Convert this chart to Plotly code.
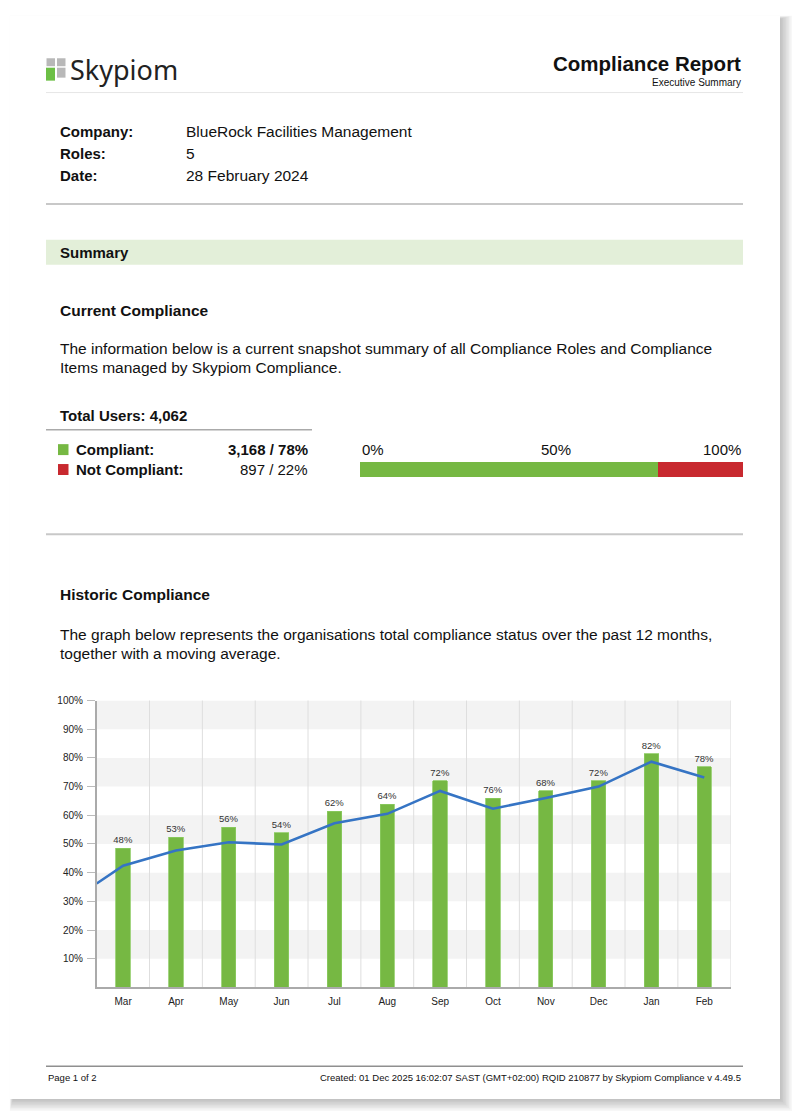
import plotly.graph_objects as go

# ---------------- data ----------------
months = ["Mar", "Apr", "May", "Jun", "Jul", "Aug", "Sep", "Oct", "Nov", "Dec", "Jan", "Feb"]
bar_values = [48.5, 52.4, 55.8, 53.9, 61.4, 63.9, 72.1, 65.9, 68.5, 72.1, 81.5, 76.9]
bar_labels = ["48%", "53%", "56%", "54%", "62%", "64%", "72%", "76%", "68%", "72%", "82%", "78%"]
# moving average: first value is the prior month's average (drawn at the left edge)
ma_values = [36.2, 42.4, 47.7, 50.6, 49.8, 57.2, 60.5, 68.5, 62.3, 66.0, 70.0, 78.7, 73.2]
y_ticks = [10, 20, 30, 40, 50, 60, 70, 80, 90, 100]
y_tick_text = [f"{v}%" for v in y_ticks]

status_names = ["Compliant", "Not Compliant"]
status_counts = [3168, 897]
status_pct_text = ["3,168 / 78%", "897 / 22%"]
total_users = "4,062"

info_labels = ["Company:", "Roles:", "Date:"]
info_values = ["BlueRock Facilities Management", "5", "28 February 2024"]

# ---------------- helpers ----------------
OFF = 8                      # the page body has an 8px margin
W, H = 800 - 2 * OFF, 1119 - 2 * OFF
FONT = "Liberation Sans, Arial, Helvetica, sans-serif"
GREEN = "#76b843"
RED = "#c8292f"
BLUE = "#3574c4"


def px(x):
    return (x - OFF) / W


def py(y):
    return 1 - (y - OFF) / H


annotations = []
shapes = []


def ann(text, x, y, size, bold=False, xanchor="left", color="#111111", family=FONT):
    annotations.append(dict(
        text=f"<b>{text}</b>" if bold else text,
        x=px(x), y=py(y), xref="paper", yref="paper",
        xanchor=xanchor, yanchor="middle", showarrow=False,
        font=dict(family=family, size=size, color=color),
    ))


def rect(x0, y0, x1, y1, fill, layer="below", line_width=0):
    shapes.append(dict(type="rect", xref="paper", yref="paper",
                       x0=px(x0), x1=px(x1), y0=py(y1), y1=py(y0),
                       fillcolor=fill, line=dict(width=line_width), layer=layer))


def hline(x0, x1, y, color, width):
    shapes.append(dict(type="line", xref="paper", yref="paper",
                       x0=px(x0), x1=px(x1), y0=py(y), y1=py(y),
                       line=dict(color=color, width=width), layer="below"))


# ---------------- page + shadow ----------------
for k in range(1, 9):
    rect(10 - k * 0.4 + 3, 10 - k * 0.4 + 3, 780 + k * 1.5, 1099 + k * 1.5,
         "rgba(0,0,0,0.03)")
rect(10, 10, 780, 1099, "#ffffff")

# ---------------- header ----------------
rect(46.5, 52.5, 55, 60.5, "#b8b8b8")
rect(57, 52.5, 65.5, 60.5, "#b8b8b8")
rect(46, 62, 55, 75, "#6cbf45")
rect(57, 62, 65.5, 72, "#b8b8b8")
ann("Skypiom", 68, 63.5, 27, color="#222222", family="Noto Sans, Liberation Sans, sans-serif")
hline(46, 743, 87, "#e6e6e6", 1)
ann("Compliance Report", 743, 58, 20.5, bold=True, xanchor="right")
ann("Executive Summary", 743, 76.5, 10, xanchor="right")

# ---------------- info ----------------
for i, (lab, val) in enumerate(zip(info_labels, info_values)):
    yy = 126 + i * 22
    ann(lab, 58, yy, 15, bold=True)
    ann(val, 184, yy, 15.5)
hline(46, 743, 199, "#c8c8c8", 2)

# ---------------- summary ----------------
rect(46, 235, 743, 260, "#e3efd9")
ann("Summary", 58, 247.5, 15, bold=True)
ann("Current Compliance", 58, 306, 15.5, bold=True)
ann("The information below is a current snapshot summary of all Compliance Roles and Compliance",
    58, 344, 15.5)
ann("Items managed by Skypiom Compliance.", 58, 363, 15.5)

ann(f"Total Users: {total_users}", 58, 412, 15, bold=True)
hline(46, 312, 426, "#aaaaaa", 1.5)
legend_colors = [GREEN, RED]
for i, (name, txt) in enumerate(zip(status_names, status_pct_text)):
    yy = 446 + i * 20
    rect(58, yy - 5.5, 68.5, yy + 5.5, legend_colors[i])
    ann(f"{name}:", 74, yy, 15, bold=True)
    ann(txt, 310, yy, 15, bold=(i == 0), xanchor="right")

ann("0%", 360, 446, 15)
ann("50%", 556, 446, 15, xanchor="center")
ann("100%", 743, 446, 15, xanchor="right")

hline(46, 743, 531, "#c8c8c8", 2)

# ---------------- historic ----------------
ann("Historic Compliance", 58, 592, 15.5, bold=True)
ann("The graph below represents the organisations total compliance status over the past 12 months,",
    58, 631.5, 15.5)
ann("together with a moving average.", 58, 650.5, 15.5)

# chart bands and vertical separators
for lo in range(10, 100, 20):
    shapes.append(dict(type="rect", xref="x domain", yref="y", x0=0, x1=1, y0=lo, y1=lo + 10,
                       fillcolor="#f3f3f3", line=dict(width=0), layer="below"))
for i in range(len(months)):
    xb = i + 0.5
    shapes.append(dict(type="line", xref="x", yref="y domain", x0=xb, x1=xb, y0=0, y1=1,
                       line=dict(color="#dedede", width=1), layer="below"))

# ---------------- footer ----------------
hline(46, 743, 1066, "#8f8f8f", 1.6)
ann("Page 1 of 2", 46, 1077, 9.5)
ann("Created: 01 Dec 2025 16:02:07 SAST (GMT+02:00) RQID 210877 by Skypiom Compliance v 4.49.5",
    743, 1077, 9.5, xanchor="right")

# ---------------- traces ----------------
fig = go.Figure()
positions = list(range(len(months)))
fig.add_trace(go.Bar(
    x=positions, y=bar_values, width=0.27,
    marker=dict(color=GREEN, line=dict(color="#8ccb62", width=0.8)),
    text=bar_labels, textposition="outside", cliponaxis=False, constraintext="none",
    textfont=dict(family=FONT, size=9.5, color="#333333"),
    xaxis="x", yaxis="y", hoverinfo="skip",
))
ma_x = [positions[0] - 0.5] + positions
fig.add_trace(go.Scatter(
    x=ma_x, y=ma_values, mode="lines",
    line=dict(color=BLUE, width=2.6), xaxis="x", yaxis="y", hoverinfo="skip",
))
for name, cnt, col in zip(status_names, status_counts, legend_colors):
    fig.add_trace(go.Bar(
        x=[cnt], y=[0], orientation="h", width=1, marker=dict(color=col, line=dict(width=0)),
        xaxis="x2", yaxis="y2", name=name, hoverinfo="skip",
    ))

fig.update_layout(
    width=W, height=H, autosize=False,
    margin=dict(l=0, r=0, t=0, b=0),
    paper_bgcolor="#ffffff", plot_bgcolor="rgba(0,0,0,0)",
    showlegend=False, barmode="stack",
    font=dict(family=FONT, color="#222222"),
    xaxis=dict(domain=[px(96.7), px(730.7)], range=[-0.5, len(months) - 0.5],
               tickmode="array", tickvals=positions, ticktext=months,
               showgrid=False, zeroline=False, showline=True, linecolor="#aaaaaa", linewidth=1.5,
               ticks="", ticklabelstandoff=4, tickfont=dict(size=10, color="#222222"),
               anchor="y", fixedrange=True),
    yaxis=dict(domain=[py(986.7), py(698.3)], range=[0, 100],
               tickmode="array", tickvals=y_ticks, ticktext=y_tick_text,
               showgrid=False, zeroline=False, showline=True, linecolor="#aaaaaa", linewidth=1.5,
               ticks="outside", ticklen=8, tickcolor="#bbbbbb", tickwidth=1,
               ticklabelstandoff=2, tickfont=dict(size=10, color="#222222"),
               anchor="x", fixedrange=True),
    xaxis2=dict(domain=[px(360), px(743)], range=[0, sum(status_counts)], visible=False,
                anchor="y2", fixedrange=True),
    yaxis2=dict(domain=[py(474), py(458)], range=[-0.5, 0.5], visible=False,
                anchor="x2", fixedrange=True),
    annotations=annotations, shapes=shapes,
)

fig.write_html("out.html")
